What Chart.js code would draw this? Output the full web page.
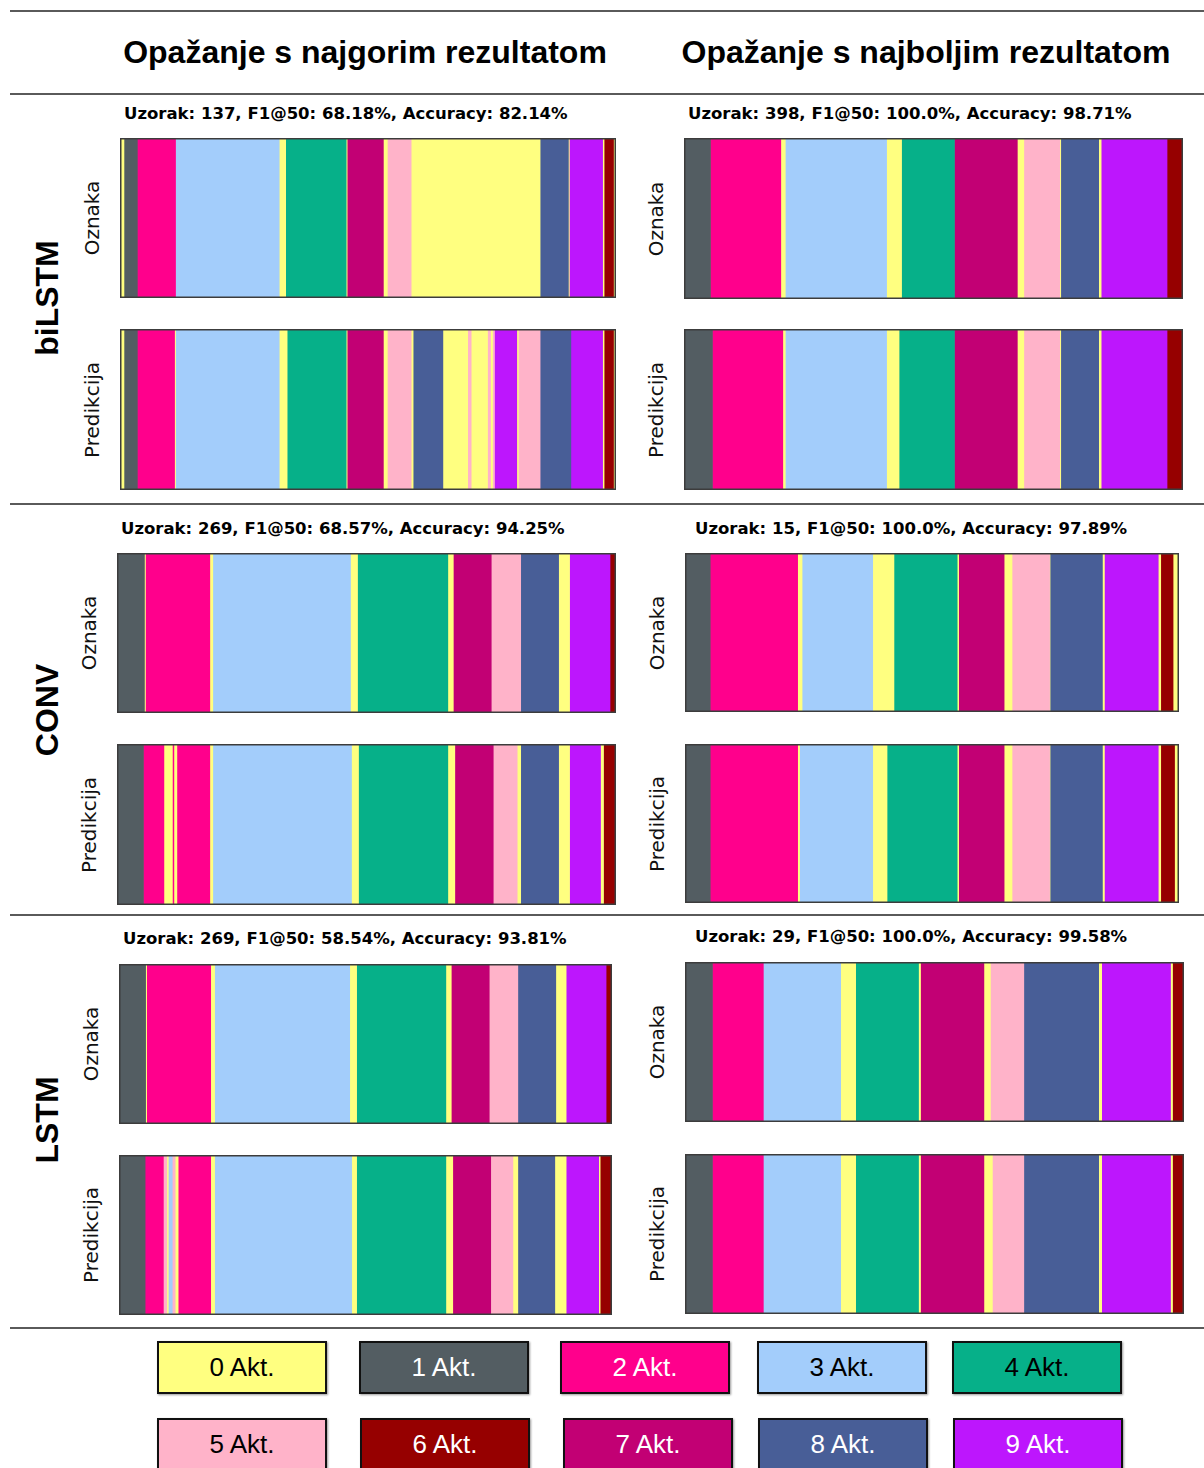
<!DOCTYPE html>
<html>
<head>
<meta charset="utf-8">
<script src="https://cdn.jsdelivr.net/npm/chart.js@4.4.0/dist/chart.umd.min.js"></script>
<style>
  html, body { margin: 0; padding: 0; background: #fff; }
  body { width: 1204px; height: 1468px; position: relative; overflow: hidden; }
  .hline { position: absolute; left: 10px; right: 0; height: 2px; background: #5a5a5a; }
  .head { position: absolute; transform: translate(-50%, -50%); font: bold 32px "Liberation Sans", Arial, sans-serif; white-space: nowrap; color: #000; }
  .rowname { position: absolute; transform: translate(-50%, -50%) rotate(-90deg); font: bold 32px "Liberation Sans", Arial, sans-serif; white-space: nowrap; }
  .sub { position: absolute; transform: translateY(-50%); font: bold 16.5px "DejaVu Sans", sans-serif; white-space: nowrap; }
  .side { position: absolute; transform: translate(-50%, -50%) rotate(-90deg); font: 20px "DejaVu Sans", sans-serif; white-space: nowrap; color: #111; }
  .strip { position: absolute; }
  .leg { position: absolute; box-sizing: border-box; border: 2px solid #111; box-shadow: 1px 1px 2px rgba(0,0,0,0.4);
         display: flex; align-items: center; justify-content: center; font: 26px "Liberation Sans", Arial, sans-serif; }
</style>
</head>
<body>
<script>
// activity classes
const classNames = ["0 Akt.", "1 Akt.", "2 Akt.", "3 Akt.", "4 Akt.", "5 Akt.", "6 Akt.", "7 Akt.", "8 Akt.", "9 Akt."];
const classColors = ["#ffff80", "#535d62", "#ff008c", "#a3cdfb", "#06b089", "#ffb3c9", "#960000", "#c20074", "#485e97", "#bd16fd"];
const classTextColors = ["#000", "#fff", "#fff", "#000", "#000", "#000", "#fff", "#fff", "#fff", "#fff"];

// segments: class per segment, and where each segment ends (% of sequence length)
const bilstmWorstLabelClasses = [0, 1, 2, 3, 0, 4, 0, 7, 0, 5, 0, 8, 0, 9, 0, 6, 0];
const bilstmWorstLabelEnds = [0.8, 3.5, 11.2, 32.1, 33.4, 45.6, 45.8, 53.1, 53.9, 58.7, 84.7, 90.4, 90.6, 97.3, 97.6, 99.5, 100];
const bilstmWorstPredClasses = [0, 1, 2, 0, 3, 0, 4, 0, 7, 0, 5, 0, 8, 0, 5, 0, 5, 0, 5, 9, 0, 5, 8, 9, 0, 6, 0];
const bilstmWorstPredEnds = [0.8, 3.5, 11.0, 11.2, 32.1, 33.7, 45.6, 45.8, 53.1, 53.9, 58.7, 59.1, 65.1, 70.1, 70.8, 74.1, 74.7, 75.1, 75.5, 80.0, 80.3, 84.7, 90.9, 97.3, 97.6, 99.5, 100];

const bilstmBestLabelClasses = [1, 2, 0, 3, 0, 4, 7, 0, 5, 0, 8, 0, 9, 6];
const bilstmBestLabelEnds = [5.3, 19.4, 20.3, 40.6, 43.6, 54.2, 66.8, 68.1, 75.3, 75.5, 83.1, 83.6, 96.8, 100];
const bilstmBestPredClasses = [1, 2, 0, 3, 0, 4, 7, 0, 5, 0, 8, 0, 9, 6];
const bilstmBestPredEnds = [5.7, 19.8, 20.3, 40.6, 43.1, 54.2, 66.8, 68.1, 75.3, 75.5, 83.1, 83.6, 96.8, 100];

const convWorstLabelClasses = [1, 0, 2, 0, 3, 0, 4, 0, 7, 5, 8, 0, 9, 6];
const convWorstLabelEnds = [5.5, 5.7, 18.6, 19.2, 46.8, 48.2, 66.3, 67.4, 75.0, 80.9, 88.5, 90.7, 98.8, 100];
const convWorstPredClasses = [1, 2, 0, 2, 0, 2, 0, 3, 0, 4, 0, 7, 5, 0, 8, 0, 9, 0, 6];
const convWorstPredEnds = [5.3, 9.4, 11.1, 11.4, 12.0, 18.6, 19.2, 47.0, 48.4, 66.3, 67.7, 75.4, 80.2, 80.9, 88.5, 90.7, 96.9, 97.5, 100];

const convBestLabelClasses = [1, 2, 0, 3, 0, 4, 0, 7, 0, 5, 0, 8, 0, 9, 0, 6, 0];
const convBestLabelEnds = [5.1, 22.8, 23.7, 38.0, 42.3, 55.1, 55.4, 64.6, 66.2, 73.8, 73.9, 84.5, 84.9, 95.8, 96.3, 98.8, 100];
const convBestPredClasses = [1, 2, 0, 3, 0, 4, 0, 7, 0, 5, 0, 8, 0, 9, 0, 6, 0];
const convBestPredEnds = [5.1, 22.8, 23.2, 38.0, 40.9, 55.1, 55.4, 64.6, 66.2, 73.8, 73.9, 84.5, 84.9, 95.8, 96.3, 99.1, 100];

const lstmWorstLabelClasses = [1, 0, 2, 0, 3, 0, 4, 0, 7, 5, 8, 0, 9, 6];
const lstmWorstLabelEnds = [5.4, 5.6, 18.6, 19.4, 46.8, 48.2, 66.3, 67.4, 75.1, 80.9, 88.6, 90.7, 98.8, 100];
const lstmWorstPredClasses = [1, 2, 5, 0, 3, 5, 0, 2, 0, 3, 0, 4, 0, 7, 5, 0, 8, 0, 9, 0, 6];
const lstmWorstPredEnds = [5.3, 9.0, 9.7, 10.0, 10.8, 11.4, 12.0, 18.6, 19.4, 47.2, 48.2, 66.3, 67.7, 75.4, 79.9, 80.9, 88.4, 90.7, 97.3, 97.6, 100];

const lstmBestLabelClasses = [1, 2, 3, 0, 4, 0, 7, 0, 5, 8, 0, 9, 0, 6];
const lstmBestLabelEnds = [5.5, 15.7, 31.2, 34.2, 46.8, 47.2, 59.9, 61.2, 67.9, 82.9, 83.5, 97.3, 97.7, 100];
const lstmBestPredClasses = [1, 2, 3, 0, 4, 0, 7, 0, 5, 8, 0, 9, 0, 6];
const lstmBestPredEnds = [5.5, 15.7, 31.2, 34.2, 46.8, 47.2, 59.9, 61.6, 67.9, 82.9, 83.5, 97.3, 97.7, 100];

const columnTitles = ["Opažanje s najgorim rezultatom", "Opažanje s najboljim rezultatom"];
const modelNames = ["biLSTM", "CONV", "LSTM"];
const sampleTitles = [
  "Uzorak: 137, F1@50: 68.18%, Accuracy: 82.14%",
  "Uzorak: 398, F1@50: 100.0%, Accuracy: 98.71%",
  "Uzorak: 269, F1@50: 68.57%, Accuracy: 94.25%",
  "Uzorak: 15, F1@50: 100.0%, Accuracy: 97.89%",
  "Uzorak: 269, F1@50: 58.54%, Accuracy: 93.81%",
  "Uzorak: 29, F1@50: 100.0%, Accuracy: 99.58%"
];
const rowLabels = ["Oznaka", "Predikcija"];

// page layout (pixels)
const panels = [
  { title: 0, sub: [124, 113], strips: [[120, 138, 496, 160, bilstmWorstLabelClasses, bilstmWorstLabelEnds], [120, 329, 496, 161, bilstmWorstPredClasses, bilstmWorstPredEnds]] },
  { title: 1, sub: [688, 113], strips: [[684, 138, 499, 161, bilstmBestLabelClasses, bilstmBestLabelEnds], [684, 329, 499, 161, bilstmBestPredClasses, bilstmBestPredEnds]] },
  { title: 2, sub: [121, 528], strips: [[117, 553, 499, 160, convWorstLabelClasses, convWorstLabelEnds], [117, 744, 499, 161, convWorstPredClasses, convWorstPredEnds]] },
  { title: 3, sub: [695, 528], strips: [[685, 553, 494, 159, convBestLabelClasses, convBestLabelEnds], [685, 744, 494, 159, convBestPredClasses, convBestPredEnds]] },
  { title: 4, sub: [123, 938], strips: [[119, 964, 493, 160, lstmWorstLabelClasses, lstmWorstLabelEnds], [119, 1155, 493, 160, lstmWorstPredClasses, lstmWorstPredEnds]] },
  { title: 5, sub: [695, 936], strips: [[685, 962, 499, 160, lstmBestLabelClasses, lstmBestLabelEnds], [685, 1154, 499, 160, lstmBestPredClasses, lstmBestPredEnds]] }
];

function addDiv(cls, text, x, y, extra) {
  const d = document.createElement("div");
  d.className = cls;
  d.textContent = text;
  d.style.left = x + "px";
  d.style.top = y + "px";
  Object.assign(d.style, extra || {});
  document.body.appendChild(d);
  return d;
}

[11, 94, 504, 915, 1328].forEach(y => addDiv("hline", "", 10, y - 1));
addDiv("head", columnTitles[0], 365, 52);
addDiv("head", columnTitles[1], 926, 52);
addDiv("rowname", modelNames[0], 47, 298);
addDiv("rowname", modelNames[1], 47, 710);
addDiv("rowname", modelNames[2], 47, 1120);

const frame = {
  id: "frame",
  afterDraw(chart) {
    const a = chart.chartArea;
    const ctx = chart.ctx;
    ctx.save();
    ctx.strokeStyle = "#3c3c3c";
    ctx.lineWidth = 1.5;
    ctx.strokeRect(a.left + 0.75, a.top + 0.75, a.right - a.left - 1.5, a.bottom - a.top - 1.5);
    ctx.restore();
  }
};

function makeStrip(x, y, w, h, classes, ends) {
  const box = addDiv("strip", "", x, y, { width: w + "px", height: h + "px" });
  const canvas = document.createElement("canvas");
  box.appendChild(canvas);
  const datasets = classes.map((c, i) => ({
    data: [[i === 0 ? 0 : ends[i - 1], ends[i]]],
    backgroundColor: classColors[c],
    borderWidth: 0,
    barPercentage: 1,
    categoryPercentage: 1,
    grouped: false
  }));
  new Chart(canvas, {
    type: "bar",
    data: { labels: [""], datasets },
    options: {
      indexAxis: "y",
      responsive: true,
      maintainAspectRatio: false,
      animation: false,
      layout: { padding: 0 },
      plugins: { legend: { display: false }, tooltip: { enabled: false } },
      scales: {
        x: { display: false, min: 0, max: 100 },
        y: { display: false }
      }
    },
    plugins: [frame]
  });
}

panels.forEach(p => {
  addDiv("sub", sampleTitles[p.title], p.sub[0], p.sub[1]);
  p.strips.forEach((s, k) => {
    makeStrip(s[0], s[1], s[2], s[3], s[4], s[5]);
    addDiv("side", rowLabels[k], s[0] - 28, s[1] + s[3] / 2);
  });
});

// legend
const legendPos = [[157, 1341], [359, 1341], [560, 1341], [757, 1341], [952, 1341],
                   [157, 1418], [360, 1418], [563, 1418], [758, 1418], [953, 1418]];
classNames.forEach((name, i) => {
  addDiv("leg", name, legendPos[i][0], legendPos[i][1], {
    width: "170px", height: "53px", background: classColors[i], color: classTextColors[i]
  });
});
</script>
</body>
</html>
